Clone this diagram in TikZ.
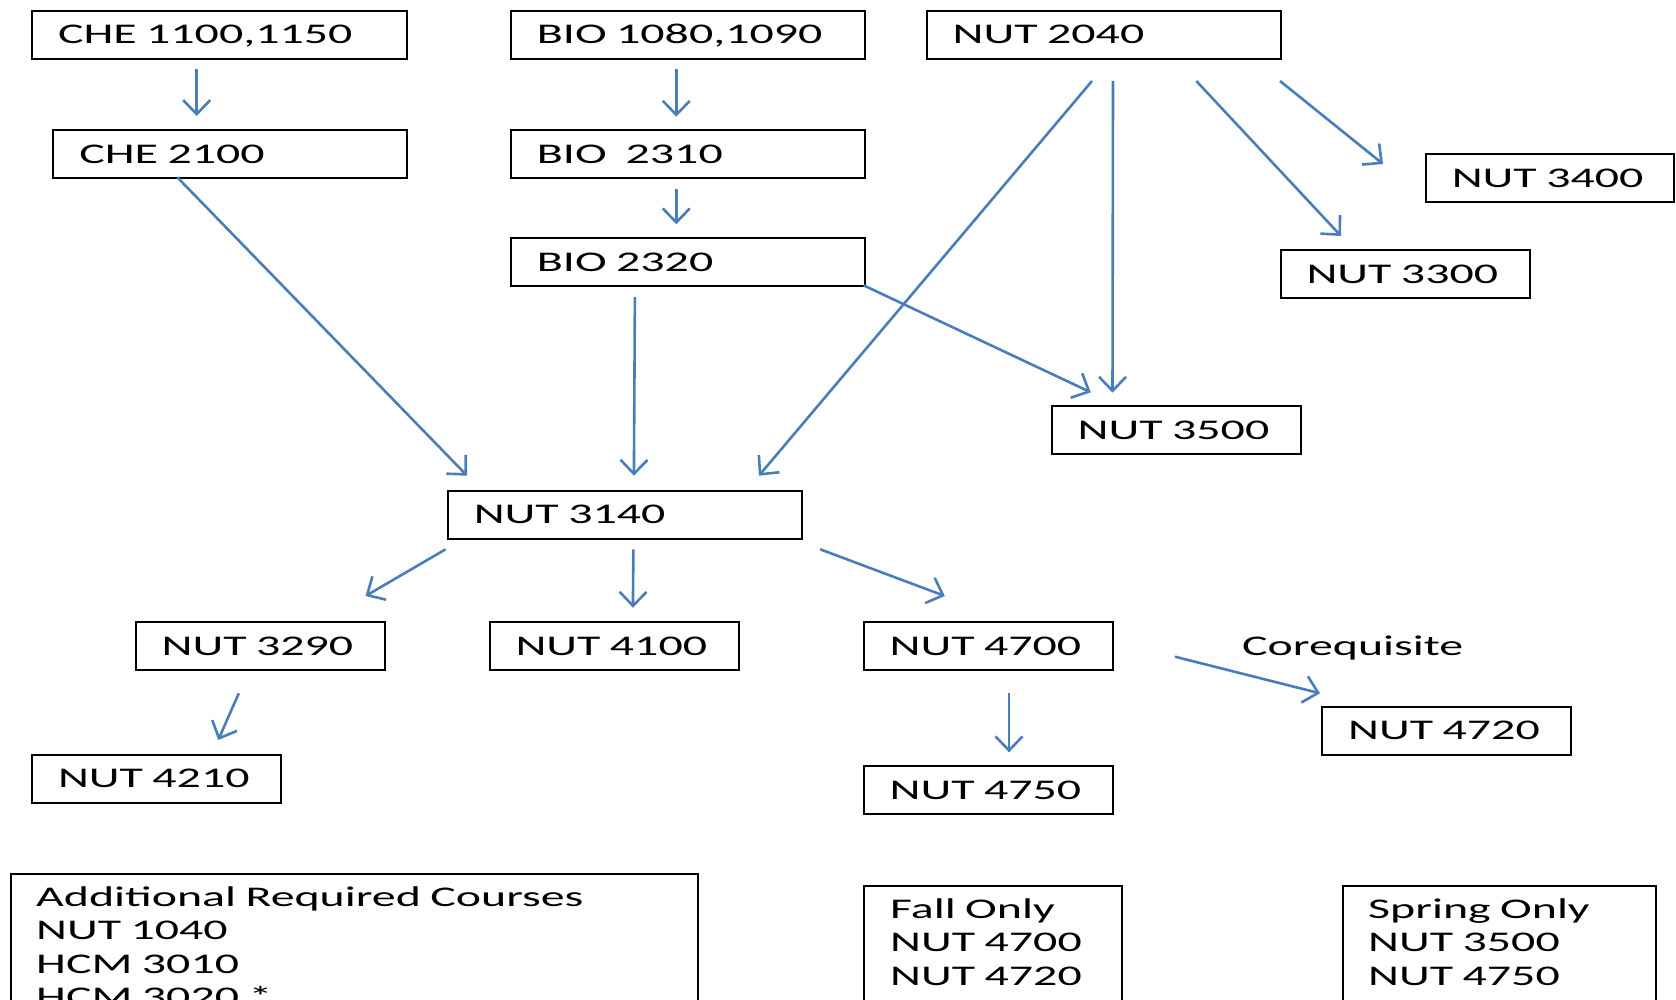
\documentclass[tikz,border=0pt]{standalone}
\usepackage{fontspec}
\setmainfont{Carlito}[FakeStretch=1.68,WordSpace=1.25]
\usetikzlibrary{arrows.meta}
\definecolor{arrowblue}{HTML}{4A7EBB}
\begin{document}
\begin{tikzpicture}[x=1pt,y=-1pt,
  every node/.style={font=\fontsize{28.5pt}{33.5pt}\selectfont},
  cbox/.style={draw, line width=2pt, anchor=north west, minimum height=48pt,
    inner xsep=26pt, inner ysep=0pt, text height=18.4pt, text depth=0pt, align=left},
  wide/.style={text width=301.8pt},
  narrow/.style={text width=197pt},
  plain/.style={draw, line width=2pt, anchor=north west, inner sep=0pt},
  txt/.style={anchor=base west, inner sep=0pt, align=left},
  arr/.style={draw=arrowblue, line width=2.6pt, -{Straight Barb[length=14pt,width=27pt]}}]
\useasboundingbox (0,0) rectangle (1676,1000);
\fill[white] (0,0) rectangle (1676,1000);

% course boxes
\node[cbox, text width=323pt] (che1) at (31,9.6) {CHE 1100,1150};
\node[cbox, text width=301.6pt] (che2) at (52.4,129.3) {CHE 2100};
\node[cbox, wide] (bio1) at (509.9,9.6) {BIO 1080,1090};
\node[cbox, wide] (bio2) at (509.9,129.3) {BIO\ \ 2310};
\node[cbox, wide] (bio3) at (509.9,237.3) {BIO 2320};
\node[cbox, wide] (n2040) at (925.7,9.6) {NUT 2040};
\node[cbox, text width=196pt] (n3400) at (1424.8,152.9) {NUT 3400};
\node[cbox, narrow] (n3300) at (1279.5,249) {NUT 3300};
\node[cbox, narrow] (n3500) at (1050.7,405.1) {NUT 3500};
\node[cbox, wide] (n3140) at (446.8,489.6) {NUT 3140};
\node[cbox, narrow] (n3290) at (134.7,621) {NUT 3290};
\node[cbox, narrow] (n4100) at (488.5,621) {NUT 4100};
\node[cbox, narrow] (n4700) at (862.6,621) {NUT 4700};
\node[cbox, narrow] (n4720) at (1321.2,705.5) {NUT 4720};
\node[cbox, narrow] (n4210) at (31,753.6) {NUT 4210};
\node[cbox, narrow] (n4750) at (862.6,765.3) {NUT 4750};

\node[txt] (coreq) at (1242,655) {Corequisite};

% bottom boxes
\node[plain, minimum width=687.4pt, minimum height=200pt] (addbox) at (9.6,873.3) {};
\node[txt, text width=640pt] (addtxt) at (36,906) {Additional Required Courses\\NUT 1040\\HCM 3010\\HCM 3020 *};
\node[plain, minimum width=258.7pt, minimum height=200pt] (fallbox) at (862.6,885) {};
\node[txt, text width=220pt] (falltxt) at (890,918.3) {Fall Only\\NUT 4700\\NUT 4720};
\node[plain, minimum width=313.2pt, minimum height=200pt] (springbox) at (1341.5,885) {};
\node[txt, text width=280pt] (springtxt) at (1368,918.3) {Spring Only\\NUT 3500\\NUT 4750};

% connector end points
\coordinate (a1s) at (196.7,69.5);  \coordinate (a1e) at (196.7,116);
\coordinate (a2s) at (676.3,69.3);  \coordinate (a2e) at (676.3,116.7);
\coordinate (a3s) at (676.3,189.3); \coordinate (a3e) at (676.3,224.3);
\coordinate (a4s) at (177.4,177.4); \coordinate (a4e) at (467.1,475.7);
\coordinate (a5s) at (634.9,297.2); \coordinate (a5e) at (633.9,475.7);
\coordinate (a6s) at (1092,81);     \coordinate (a6e) at (758.9,475.7);
\coordinate (a7s) at (863.7,285.4); \coordinate (a7e) at (1090.8,392.3);
\coordinate (a8s) at (1113,81);     \coordinate (a8e) at (1112.5,392.7);
\coordinate (a9s) at (1196.3,81);   \coordinate (a9e) at (1341,236);
\coordinate (a10s) at (1280,81);    \coordinate (a10e) at (1383,164);
\coordinate (a11s) at (445.6,549.3); \coordinate (a11e) at (365.5,596);
\coordinate (a12s) at (633.4,549.3); \coordinate (a12e) at (632.9,607.7);
\coordinate (a13s) at (820.2,549.3); \coordinate (a13e) at (944.8,596);
\coordinate (a14s) at (238.8,693.3); \coordinate (a14e) at (218.2,740);
\coordinate (a15s) at (1009,693.3);  \coordinate (a15e) at (1009,752.3);
\coordinate (a16s) at (1175,656.7);  \coordinate (a16e) at (1320,693.3);

\foreach \i in {1,...,16} { \draw[arr] (a\i s) -- (a\i e); }
\end{tikzpicture}
\end{document}
